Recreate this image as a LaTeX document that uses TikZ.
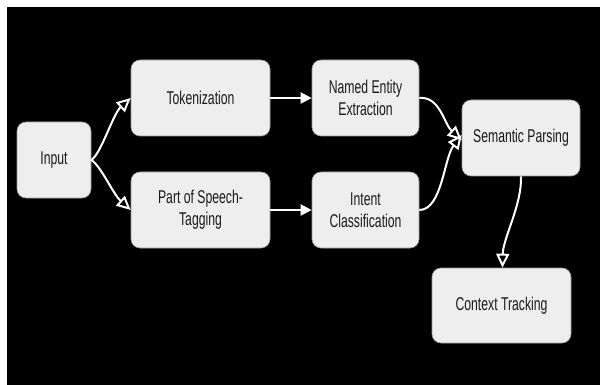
\documentclass[tikz,border=0pt]{standalone}
\usepackage{fontspec}
\setmainfont{Liberation Sans}[FakeStretch=0.66]
\usetikzlibrary{arrows.meta}
\definecolor{boxfill}{HTML}{EEEEEE}
\definecolor{boxline}{HTML}{9A9A9A}
\definecolor{txt}{HTML}{1A1A1A}
\tikzset{
  proc/.style={draw=boxline, line width=0.6pt, fill=boxfill, rounded corners=9pt,
    text=txt, font=\fontsize{18.5}{22}\selectfont, align=center, inner sep=0pt},
  curvearrow/.style={draw=white, line width=2pt,
    -{Triangle[open, length=14pt, width=13pt, line width=2pt]}},
  straightarrow/.style={draw=white, line width=2pt,
    -{Triangle[length=11pt, width=11pt]}}
}
\begin{document}
\begin{tikzpicture}[x=1pt, y=-1pt]
\useasboundingbox (0,0) rectangle (600,385);
\fill[white] (0,0) rectangle (600,385);
\fill[black] (7,7) rectangle (600,385);
\node[proc, minimum width=74pt, minimum height=76pt] (in) at (54,160) {Input};
\node[proc, minimum width=139pt, minimum height=76pt] (tok) at (200.5,98) {Tokenization};
\node[proc, minimum width=139pt, minimum height=76pt] (pos) at (200.5,210) {Part of Speech-\\Tagging};
\node[proc, minimum width=107pt, minimum height=76pt] (ner) at (365.5,98) {Named Entity\\Extraction};
\node[proc, minimum width=107pt, minimum height=76pt] (int) at (365.5,210) {Intent\\Classification};
\node[proc, minimum width=118pt, minimum height=76pt] (sp) at (521,138) {Semantic Parsing};
\node[proc, minimum width=139pt, minimum height=75pt] (ct) at (501.5,305.5) {Context Tracking};
\draw[curvearrow] (in.east) .. controls (101,154) and (113,114) .. (tok.west);
\draw[curvearrow] (in.east) .. controls (101,166) and (113,194) .. (pos.west);
\draw[straightarrow] (tok.east) -- (ner.west);
\draw[straightarrow] (pos.east) -- (int.west);
\draw[curvearrow] (ner.east) .. controls (440,96) and (444,124) .. ([yshift=-2pt]sp.west);
\draw[curvearrow] (int.east) .. controls (442,210) and (444,158) .. ([yshift=3pt]sp.west);
\draw[curvearrow] (sp.south) .. controls (522,205) and (503,238) .. ([xshift=1pt]ct.north);
\end{tikzpicture}
\end{document}
